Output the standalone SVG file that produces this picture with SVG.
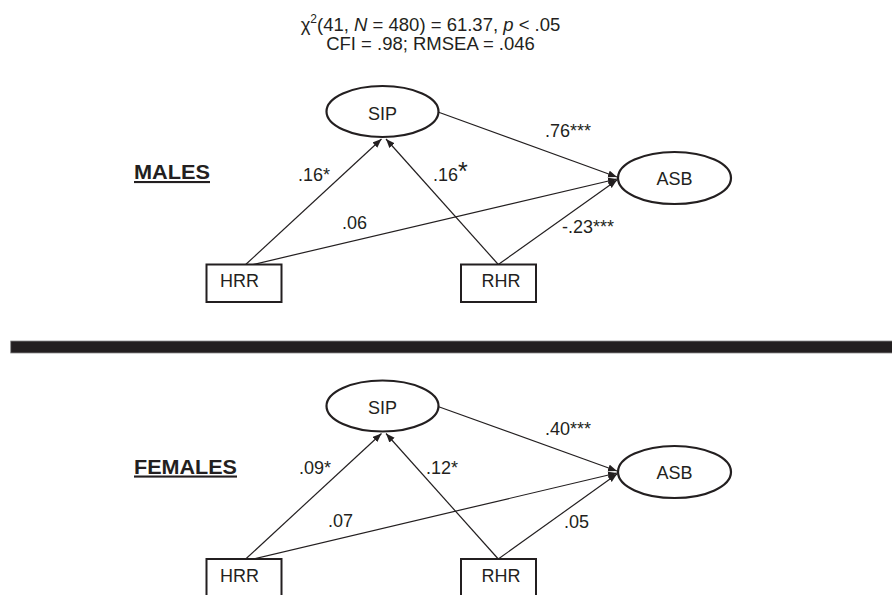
<svg xmlns="http://www.w3.org/2000/svg" width="892" height="595" viewBox="0 0 892 595">
<style>
text{font-family:"Liberation Sans",Arial,sans-serif;fill:#231f20;}
.t{font-size:18.5px;}
.lab{font-size:18px;}
.nt{font-size:18px;}
.grp{font-size:21px;font-weight:bold;text-decoration:underline;}
.ell{fill:#fff;stroke:#231f20;stroke-width:2.2;}
.box{fill:#fff;stroke:#231f20;stroke-width:2;}
.c{stroke:#231f20;stroke-width:1.2;fill:none;marker-end:url(#ah);}
</style>
<defs>
<marker id="ah" markerUnits="userSpaceOnUse" markerWidth="10" markerHeight="8" refX="9" refY="3.5" orient="auto">
<path d="M0,0 L9,3.5 L0,7 z" fill="#231f20"/>
</marker>
</defs>
<rect width="892" height="595" fill="#fff"/>
<g id="title">
<text class="t" x="430.5" y="31" text-anchor="middle">χ<tspan font-size="12" dy="-8">2</tspan><tspan dy="8">(41, </tspan><tspan font-style="italic">N</tspan> = 480) = 61.37, <tspan font-style="italic">p</tspan> &lt; .05</text>
<text class="t" x="430.5" y="50" text-anchor="middle">CFI = .98; RMSEA = .046</text>
</g>
<g id="connectors">
<line class="c" x1="245.7" y1="264.5" x2="381.5" y2="139"/>
<line class="c" x1="498.3" y1="264.5" x2="386" y2="139"/>
<line class="c" x1="438" y1="112" x2="617" y2="177"/>
<line class="c" x1="253" y1="264.5" x2="617" y2="179"/>
<line class="c" x1="498.3" y1="264.5" x2="617" y2="180"/>
<line class="c" x1="245.7" y1="559" x2="381.5" y2="433.5"/>
<line class="c" x1="498.3" y1="559" x2="386" y2="433.5"/>
<line class="c" x1="438" y1="406.5" x2="617" y2="471"/>
<line class="c" x1="253" y1="559" x2="617" y2="473"/>
<line class="c" x1="498.3" y1="559" x2="617" y2="474"/>
</g>
<g id="males-label"><text class="grp" x="134" y="179" textLength="76" lengthAdjust="spacingAndGlyphs">MALES</text></g>
<g id="m-SIP"><ellipse class="ell" cx="382.5" cy="111.5" rx="56" ry="25.5"/><text class="nt" x="382.5" y="120" text-anchor="middle">SIP</text></g>
<g id="m-ASB"><ellipse class="ell" cx="674.5" cy="178" rx="56.5" ry="26"/><text class="nt" x="674.5" y="184.5" text-anchor="middle">ASB</text></g>
<g id="m-HRR"><rect class="box" x="206.5" y="264.5" width="75" height="37.5"/><text class="nt" x="220" y="287">HRR</text></g>
<g id="m-RHR"><rect class="box" x="461" y="264.5" width="75" height="37.5"/><text class="nt" x="481.5" y="287">RHR</text></g>
<g id="males-labels">
<text class="lab" x="298" y="181">.16*</text>
<text class="lab" x="433" y="181">.16<tspan font-size="25" dy="-1">*</tspan></text>
<text class="lab" x="342" y="229">.06</text>
<text class="lab" x="545" y="137">.76***</text>
<text class="lab" x="562" y="233">-.23***</text>
</g>
<rect id="divider" x="10.7" y="341" width="882" height="12" fill="#231f20" stroke="#8a8a8a" stroke-width="0.8"/>
<g id="females-label"><text class="grp" x="134" y="473.5" textLength="103" lengthAdjust="spacingAndGlyphs">FEMALES</text></g>
<g id="f-SIP"><ellipse class="ell" cx="382.5" cy="406" rx="56" ry="25.5"/><text class="nt" x="382.5" y="414" text-anchor="middle">SIP</text></g>
<g id="f-ASB"><ellipse class="ell" cx="674.5" cy="472" rx="56.5" ry="26"/><text class="nt" x="674.5" y="478.5" text-anchor="middle">ASB</text></g>
<g id="f-HRR"><rect class="box" x="206.5" y="559" width="75" height="45"/><text class="nt" x="220" y="582">HRR</text></g>
<g id="f-RHR"><rect class="box" x="461" y="559" width="75" height="45"/><text class="nt" x="481.5" y="582">RHR</text></g>
<g id="females-labels">
<text class="lab" x="299" y="474">.09*</text>
<text class="lab" x="426" y="474">.12*</text>
<text class="lab" x="328" y="527">.07</text>
<text class="lab" x="545" y="435">.40***</text>
<text class="lab" x="564" y="528">.05</text>
</g>
</svg>
